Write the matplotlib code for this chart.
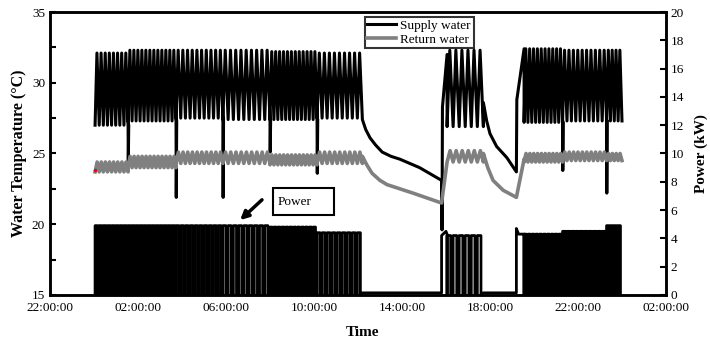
import numpy as np
import matplotlib.pyplot as plt
from matplotlib.patches import Rectangle

plt.rcParams['font.family'] = ['Liberation Serif', 'DejaVu Serif']

# x axis in hours after 22:00 of the day before
tick_hours = [0, 4, 8, 12, 16, 20, 24, 28]
tick_labels = ['22:00:00', '02:00:00', '06:00:00', '10:00:00',
               '14:00:00', '18:00:00', '22:00:00', '02:00:00']

# running segments (split where supply water dips), cycles counted on the picture
seg_start = [2.05, 3.55, 5.73, 7.86, 10.0, 12.14, 18.05, 21.55, 23.3, 25.3]
seg_end = [3.55, 5.73, 7.86, 10.0, 12.14, 14.2, 19.7, 23.3, 25.3, 26.0]
seg_cycles = [8, 12, 10, 9, 12, 9, 6, 10, 10, 4]
supply_hi = [32.1, 32.3, 32.3, 32.3, 32.2, 32.1, 32.3, 32.4, 32.3, 32.3]
supply_lo = [27.0, 27.3, 27.5, 27.4, 27.4, 27.5, 26.9, 27.2, 27.3, 27.3]
return_hi = [24.4, 24.8, 25.1, 25.1, 24.9, 25.1, 25.2, 25.0, 25.1, 25.0]
return_lo = [23.7, 24.0, 24.3, 24.3, 24.2, 24.3, 24.4, 24.4, 24.5, 24.5]
power_on = [4.9, 4.9, 4.9, 4.9, 4.8, 4.4, 4.2, 4.3, 4.5, 4.9]

# short supply water drops between segments
dip_t = [3.55, 5.73, 7.86, 10.0, 12.14, 23.3, 25.3]
dip_v = [24.5, 21.9, 21.9, 25.1, 23.6, 23.8, 22.2]

# cool down after the unit stops, and restart
sup_off1_t = [14.2, 14.35, 14.55, 14.8, 15.1, 15.5, 15.9, 16.8, 17.8, 17.82, 17.84, 18.05]
sup_off1_v = [27.4, 26.7, 26.1, 25.6, 25.1, 24.8, 24.6, 24.0, 23.1, 19.6, 28.3, 32.0]
ret_off1_t = [14.2, 14.4, 14.64, 15.0, 15.32, 16.5, 17.8, 18.05]
ret_off1_v = [24.8, 24.2, 23.6, 23.1, 22.8, 22.2, 21.5, 24.4]
sup_off2_t = [19.7, 19.85, 20.0, 20.3, 20.77, 21.2, 21.22, 21.55]
sup_off2_v = [28.6, 27.3, 26.4, 25.5, 24.7, 23.7, 28.8, 32.4]
ret_off2_t = [19.7, 19.9, 20.14, 20.6, 21.2, 21.55]
ret_off2_v = [25.0, 24.0, 23.1, 22.4, 21.9, 24.6]
pow_off1_t = [14.2, 17.8, 17.8, 18.0, 18.05]
pow_off1_v = [0.15, 0.15, 4.2, 4.5, 4.3]
pow_off2_t = [19.7, 21.2, 21.2, 21.3, 21.55]
pow_off2_v = [0.15, 0.15, 4.7, 4.3, 4.3]


def zigzag(t0, t1, n, hi, lo, peak=0.45):
    p = (t1 - t0) / n
    t, v = [], []
    for i in range(n):
        a = t0 + i * p
        t += [a, a + peak * p]
        v += [lo, hi]
    t.append(t1)
    v.append(lo)
    return t, v


def onoff(t0, t1, n, on, duty=0.6):
    p = (t1 - t0) / n
    t, v = [], []
    for i in range(n):
        a = t0 + i * p
        t += [a, a, a + duty * p, a + duty * p]
        v += [0, on, on, 0]
    return t, v


sup_t, sup_v, ret_t, ret_v, pw_t, pw_v = [], [], [], [], [], []
for i in range(len(seg_start)):
    t, v = zigzag(seg_start[i], seg_end[i], seg_cycles[i], supply_hi[i], supply_lo[i])
    sup_t += t; sup_v += v
    if seg_end[i] in dip_t:
        d = dip_v[dip_t.index(seg_end[i])]
        sup_t += [seg_end[i] + 0.01, seg_end[i] + 0.03]
        sup_v += [d, supply_lo[i]]
    t, v = zigzag(seg_start[i], seg_end[i], seg_cycles[i], return_hi[i], return_lo[i], 0.5)
    ret_t += t; ret_v += v
    t, v = onoff(seg_start[i], seg_end[i], seg_cycles[i], power_on[i])
    pw_t += t; pw_v += v
    if i == 5:
        sup_t += sup_off1_t; sup_v += sup_off1_v
        ret_t += ret_off1_t; ret_v += ret_off1_v
        pw_t += pow_off1_t; pw_v += pow_off1_v
    if i == 6:
        sup_t += sup_off2_t; sup_v += sup_off2_v
        ret_t += ret_off2_t; ret_v += ret_off2_v
        pw_t += pow_off2_t; pw_v += pow_off2_v

fig = plt.figure(figsize=(7.1, 3.43), dpi=100)
ax = fig.add_axes([0.0704, 0.14, 0.8676, 0.825])
ax2 = ax.twinx()

ax.plot(sup_t, sup_v, color='black', lw=2.2, label='Supply water')
ax.plot(ret_t, ret_v, color='#808080', lw=2.6, label='Return water')
ax.plot([seg_start[0]], [ret_v[0] + 0.1], 'o', color='red', ms=1.5)
ax2.plot(pw_t, pw_v, color='black', lw=2.0)

ax.set_xlim(0, 28)
ax.set_ylim(15, 35)
ax2.set_ylim(0, 20)
ax.set_xticks(tick_hours)
ax.set_xticklabels(tick_labels, fontsize=9.5)
ax.set_yticks([15, 20, 25, 30, 35])
ax.set_yticks(np.arange(15, 35, 2.5), minor=True)
ax.tick_params(axis='y', labelsize=9.5)
ax2.set_yticks(range(0, 21, 2))
ax2.tick_params(axis='y', labelsize=9.5)
ax.tick_params(which='both', direction='in', length=4, width=1.5)
ax.tick_params(axis='x', length=0, pad=5)
ax2.tick_params(direction='in', length=4, width=1.5)
for a in (ax, ax2):
    for s in a.spines.values():
        s.set_linewidth(1.8)

ax.set_ylabel('Water Temperature (°C)', fontsize=11.5, fontweight='bold')
ax.yaxis.set_label_coords(-0.037, 0.5)
ax2.set_ylabel('Power (kW)', fontsize=11, fontweight='bold')
ax2.yaxis.set_label_coords(1.046, 0.5)
ax.set_xlabel('Time', fontsize=11, fontweight='bold')
ax.xaxis.set_label_coords(0.508, -0.11)

leg = ax.legend(loc='upper left', bbox_to_anchor=(0.511, 0.982), fontsize=9.5,
                frameon=True, fancybox=False, borderpad=0.2, borderaxespad=0,
                handlelength=2.2, handletextpad=0.3, labelspacing=0.1)
leg.get_frame().set_edgecolor('black')
leg.get_frame().set_linewidth(1.5)

ax.add_patch(Rectangle((10.14, 20.65), 2.76, 1.91, fill=False, lw=1.5, ec='black', zorder=5))
ax.text(10.35, 21.6, 'Power', fontsize=9.5, va='center', ha='left', zorder=6)
ax.annotate('', xy=(8.55, 20.16), xytext=(9.73, 21.86),
            arrowprops=dict(arrowstyle='-|>', lw=2.5, color='black', mutation_scale=12))

fig.savefig('out.png', dpi=100)
